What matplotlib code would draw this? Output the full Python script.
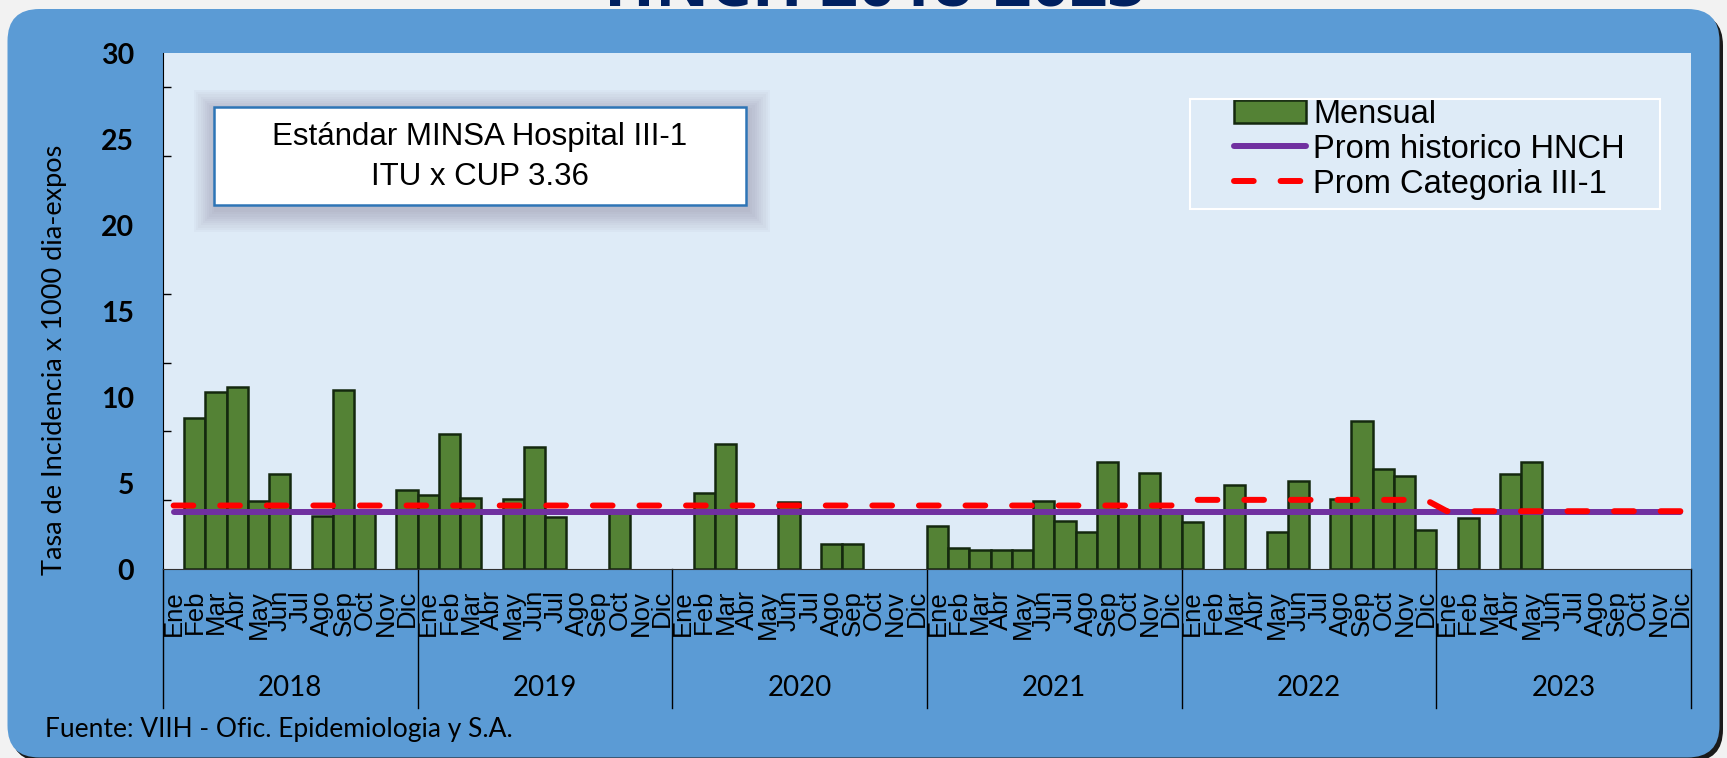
import numpy as np
import matplotlib
matplotlib.use('Agg')
import matplotlib.pyplot as plt
import matplotlib.transforms as mtransforms
from matplotlib.patches import FancyBboxPatch, Rectangle

# Data (None = no bar that month)
years = ['2018', '2019', '2020', '2021', '2022', '2023']
months = ['Ene', 'Feb', 'Mar', 'Abr', 'May', 'Jun', 'Jul', 'Ago', 'Sep', 'Oct', 'Nov', 'Dic']

mensual_2018 = [None, 8.80, 10.30, 10.58, 3.95, 5.53, None, 3.08, 10.41, 3.40, None, 4.58]
mensual_2019 = [4.30, 7.83, 4.10, None, 4.05, 7.10, 3.05, None, None, 3.30, None, None]
mensual_2020 = [None, 4.40, 7.28, None, None, 3.90, None, 1.48, 1.48, None, None, None]
mensual_2021 = [2.52, 1.24, 1.10, 1.10, 1.10, 3.95, 2.80, 2.15, 6.22, 3.40, 5.57, 3.30]
mensual_2022 = [2.72, None, 4.87, None, 2.15, 5.10, None, 4.05, 8.60, 5.82, 5.40, 2.26]
mensual_2023 = [None, 2.96, None, 5.53, 6.22, None, None, None, None, None, None, None]

prom_hnch = 3.34                                      # Prom historico HNCH
prom_categoria = [3.69, 3.69, 3.69, 3.69, 4.02, 3.36]  # Prom Categoria III-1, per year

W, H = 1727, 758


def fx(px):
    return px / W


def fy(py):
    return 1 - py / H


mensual = np.array([np.nan if v is None else v for v in
                    mensual_2018 + mensual_2019 + mensual_2020 +
                    mensual_2021 + mensual_2022 + mensual_2023], dtype=float)
x = np.arange(len(mensual))
has = ~np.isnan(mensual)
categoria = np.repeat(prom_categoria, len(months))

fig = plt.figure(figsize=(W / 100, H / 100), dpi=100, facecolor='#F2F2F2')

# partly cut-off title at the very top
fig.text(fx(875), fy(6), 'HNCH 2018-2023', ha='center', va='baseline',
         fontsize=48, fontweight='bold', family='Open Sans', color='#002060')

# rounded blue panel with dark shadow
shadow = FancyBboxPatch((0.11, -0.035), 17.12, 7.48, boxstyle='round,pad=0,rounding_size=0.32',
                        transform=fig.dpi_scale_trans, facecolor='#1a1a1a', edgecolor='none', zorder=-3)
panel = FancyBboxPatch((0.075, 0.005), 17.12, 7.485, boxstyle='round,pad=0,rounding_size=0.32',
                       transform=fig.dpi_scale_trans, facecolor='#5B9BD5', edgecolor='none', zorder=-2)
fig.patches.extend([shadow, panel])

ax = fig.add_axes([fx(163), fy(569), fx(1691) - fx(163), fy(53) - fy(569)])
ax.set_facecolor('#DEEBF7')

h_bar = ax.bar(x[has], mensual[has], width=1.0, color='#548235', edgecolor='#14280E',
               linewidth=1.8, label='Mensual', zorder=2)
h_hnch, = ax.plot(x, np.full(len(x), prom_hnch), color='#7030A0', lw=4.3,
                  solid_capstyle='round', label='Prom historico HNCH', zorder=3)
h_cat, = ax.plot(x, categoria, color='#FF0000', lw=4.3, dashes=(3.3, 4.5),
                 dash_capstyle='round', label='Prom Categoria III-1', zorder=4)

ax.set_xlim(-0.5, len(x) - 0.5)
ax.set_ylim(0, 30)

# y axis: labels every 5, tick marks every 4 (as in the original)
ax.set_yticks(np.arange(0, 31, 5))
ax.set_yticklabels([str(v) for v in range(0, 31, 5)], fontsize=20.5,
                   fontweight='bold', family='Lato')
ax.tick_params(axis='y', which='major', length=0, pad=21)
ax.set_yticks(np.arange(0, 30, 4), minor=True)
ax.tick_params(axis='y', which='minor', direction='in', length=6, width=1, color='black')

ax.set_xticks(x)
ax.set_xticklabels(months * len(years), rotation=90, fontsize=18.5, family='Liberation Sans')
ax.tick_params(axis='x', length=0, pad=15)

for side in ['top', 'right']:
    ax.spines[side].set_visible(False)
ax.spines['left'].set_color('black')
ax.spines['bottom'].set_color('#303030')

# year group separators and labels under the month labels
blend = mtransforms.blended_transform_factory(ax.transData, fig.transFigure)
for k in range(len(years) + 1):
    xs = k * len(months) - 0.5
    ax.plot([xs, xs], [fy(569), fy(708)], transform=blend, color='black', lw=1, clip_on=False)
for k, yr in enumerate(years):
    ax.text(k * len(months) + 5.5, fy(688), yr, transform=blend, ha='center', va='center',
            fontsize=20, family='Lato')

fig.text(fx(55), fy(360), 'Tasa de Incidencia x 1000 dia-expos', rotation=90,
         ha='center', va='center', fontsize=19.5, family='Lato')
fig.text(fx(45), fy(730), 'Fuente: VIIH - Ofic. Epidemiologia y S.A.', ha='left', va='center',
         fontsize=19, family='Lato')

# legend with white frame
ax.legend([h_bar, h_hnch, h_cat], ['Mensual', 'Prom historico HNCH', 'Prom Categoria III-1'],
          loc='upper left', bbox_to_anchor=(fx(1234), fy(99)), bbox_transform=fig.transFigure,
          frameon=False, borderaxespad=0, borderpad=0, handlelength=2.2,
          handletextpad=0.22, labelspacing=0.12,
          prop={'family': 'Liberation Sans', 'size': 23.5})
fig.patches.append(Rectangle((fx(1190), fy(209)), fx(1660) - fx(1190), fy(99) - fy(209),
                             transform=fig.transFigure, facecolor='none', edgecolor='white',
                             lw=1.5, zorder=5))

# standard box with soft shadow
bx0, bx1, by0, by1 = 214, 746, 107, 205
for i in range(10, 0, -1):
    s = i * 2.2
    fig.patches.append(Rectangle((fx(bx0 - s + 2), fy(by1 + s + 5)), (bx1 - bx0 + 2 * s) / W,
                                 (by1 - by0 + 2 * s) / H, transform=fig.transFigure,
                                 facecolor='#6A5A78', edgecolor='none', alpha=0.035, zorder=5))
fig.patches.append(Rectangle((fx(bx0), fy(by1)), (bx1 - bx0) / W, (by1 - by0) / H,
                             transform=fig.transFigure, facecolor='white', edgecolor='#2E75B6',
                             lw=1.8, zorder=6))
fig.text(fx(480), fy(145), 'Estándar MINSA Hospital III-1', ha='center', va='baseline',
         fontsize=22.5, family='Liberation Sans', zorder=7)
fig.text(fx(480), fy(185), 'ITU x CUP 3.36', ha='center', va='baseline',
         fontsize=22.5, family='Liberation Sans', zorder=7)

fig.savefig('out.png', dpi=100, facecolor=fig.get_facecolor())
